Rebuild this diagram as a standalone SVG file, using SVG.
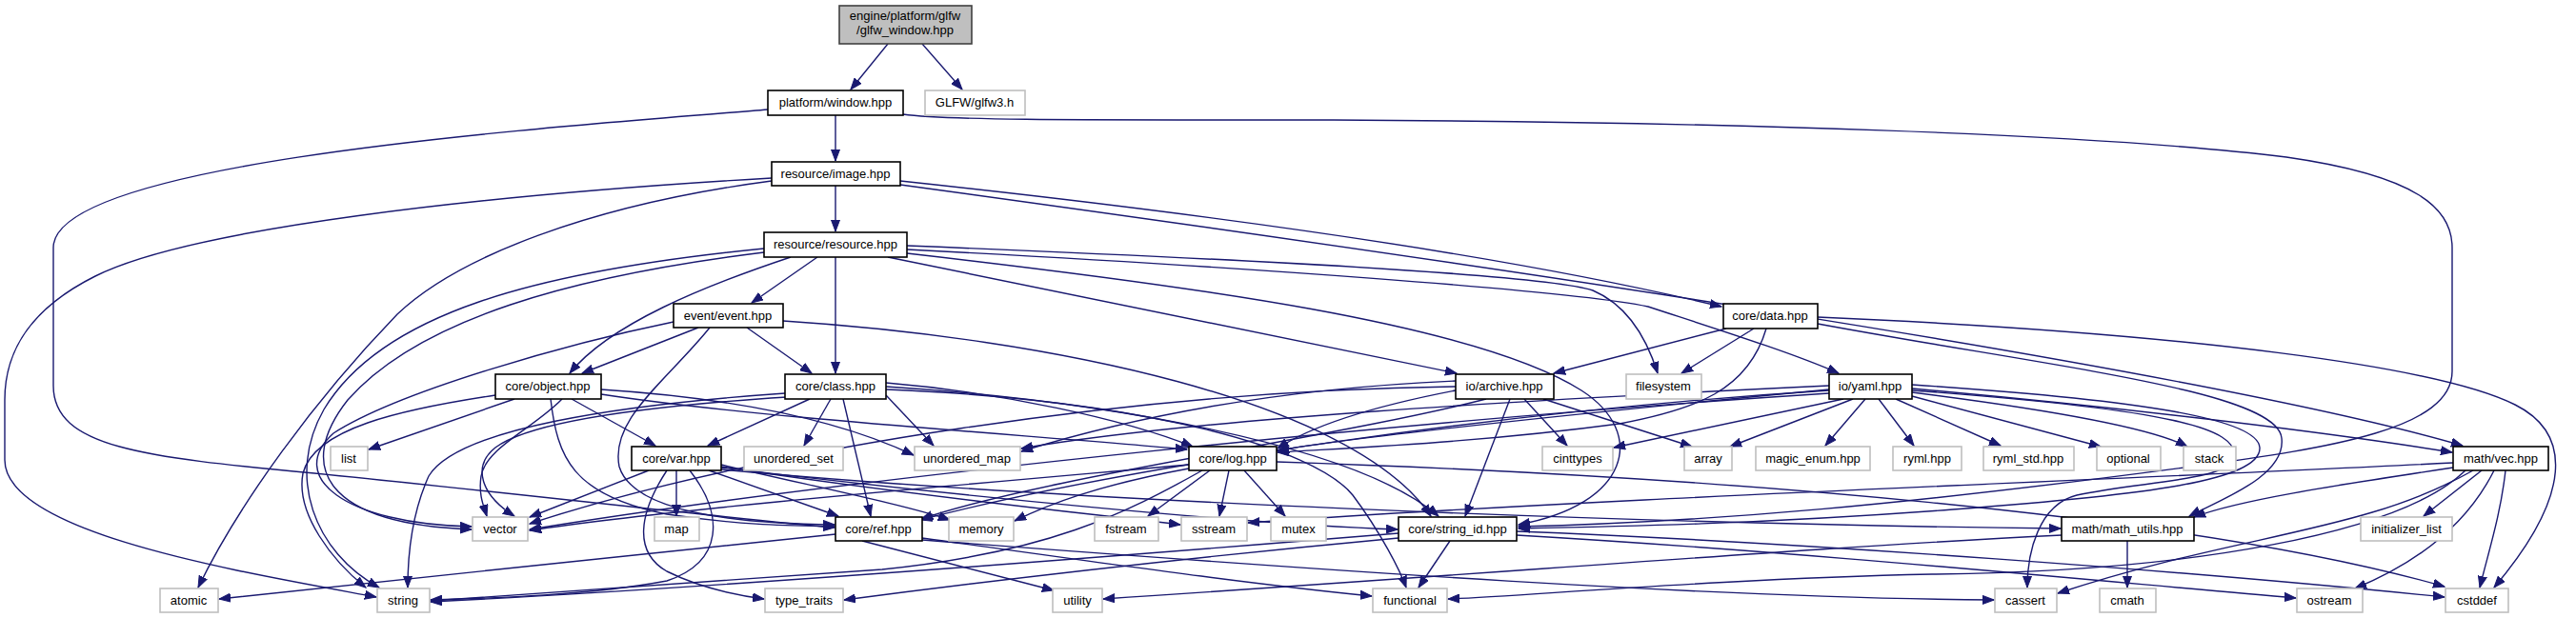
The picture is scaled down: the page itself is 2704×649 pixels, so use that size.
<svg xmlns="http://www.w3.org/2000/svg" width="2704" height="649" viewBox="0 0 2704 649">
<style>
.e{fill:none;stroke:#191970;stroke-width:1.4;marker-end:url(#arr)}
.n rect{fill:#fff;stroke:#000;stroke-width:1.6}
.x rect{fill:#fff;stroke:#bfbfbf;stroke-width:1.6}
.r rect{fill:#bfbfbf;stroke:#404040;stroke-width:1.6}
text{font-family:"Liberation Sans",Arial,sans-serif;font-size:13px;text-anchor:middle;fill:#000}
</style>
<defs>
<marker id="arr" markerWidth="13" markerHeight="10" refX="12" refY="5" orient="auto" markerUnits="userSpaceOnUse">
<path d="M0,0.5 L12,5 L0,9.5 z" fill="#191970" stroke="#191970" stroke-width="1"/>
</marker>
</defs>
<rect width="2704" height="649" fill="#fff"/>
<g id="edges">
<path class="e" d="M932,46 L893,94"/>
<path class="e" d="M968,46 L1010,94"/>
<path class="e" d="M877,121 L877,169"/>
<path class="e" d="M806,115 C560,135 56,170 56,260 L56,405 C56,470 150,480 330,497 C560,520 760,544 876,554"/>
<path class="e" d="M948,120 C990,126 1100,126 1400,126 C1800,128 2200,140 2400,165 C2540,185 2574,220 2574,260 L2574,390 C2574,450 2450,470 2300,490 C2000,530 1800,548 1594,553"/>
<path class="e" d="M877,195 L877,243"/>
<path class="e" d="M810,187 C500,205 200,240 100,290 C30,325 5,370 5,420 L5,483 C5,560 250,600 395,627"/>
<path class="e" d="M810,190 C620,215 480,270 417,330 C330,420 250,530 208,617"/>
<path class="e" d="M945,190 C1300,228 1600,272 1807,322"/>
<path class="e" d="M945,194 C1500,270 2300,385 2585,468"/>
<path class="e" d="M858,270 L789,318"/>
<path class="e" d="M877,270 L877,392"/>
<path class="e" d="M830,270 C740,300 640,340 598,392"/>
<path class="e" d="M802,261 C560,285 400,330 340,430 C300,500 330,580 398,617"/>
<path class="e" d="M802,265 C600,290 440,335 365,420 C310,490 340,550 495,556"/>
<path class="e" d="M932,270 L1529,392"/>
<path class="e" d="M952,258 C1300,272 1620,288 1672,305 C1712,322 1730,360 1740,392"/>
<path class="e" d="M952,262 C1300,280 1650,305 1730,322 C1800,345 1880,370 1930,392"/>
<path class="e" d="M952,266 C1250,300 1550,340 1660,410 C1730,455 1710,530 1594,551"/>
<path class="e" d="M733,344 L611,392"/>
<path class="e" d="M784,344 L852,392"/>
<path class="e" d="M707,338 C600,360 420,410 350,455 C300,500 360,550 495,553"/>
<path class="e" d="M745,344 C700,400 640,440 650,490 C665,540 780,550 876,551"/>
<path class="e" d="M822,337 C1100,355 1420,420 1502,542"/>
<path class="e" d="M1812,345 L1631,392"/>
<path class="e" d="M1841,345 L1765,392"/>
<path class="e" d="M1854,345 C1835,410 1780,430 1700,445 C1550,465 1420,470 1341,475"/>
<path class="e" d="M1908,333 C2300,350 2560,385 2640,425 C2700,455 2700,520 2618,617"/>
<path class="e" d="M1908,340 C2150,385 2390,410 2395,460 C2400,500 2330,525 2298,542"/>
<path class="e" d="M540,419 L387,472"/>
<path class="e" d="M600,419 L688,468"/>
<path class="e" d="M578,419 C585,480 600,520 700,540 C780,552 830,552 876,553"/>
<path class="e" d="M590,419 C560,450 510,470 505,500 C502,520 508,532 511,542"/>
<path class="e" d="M520,415 C420,430 330,450 318,497 C310,540 350,590 384,617"/>
<path class="e" d="M631,409 C800,420 900,450 959,478"/>
<path class="e" d="M631,414 C800,440 1100,458 1246,472"/>
<path class="e" d="M850,419 L743,468"/>
<path class="e" d="M872,419 L844,468"/>
<path class="e" d="M885,419 L914,542"/>
<path class="e" d="M826,417 C700,425 560,440 520,470 C495,490 505,520 540,542"/>
<path class="e" d="M824,413 C650,425 480,450 450,500 C432,540 428,580 428,617"/>
<path class="e" d="M930,415 L980,468"/>
<path class="e" d="M930,402 C1050,412 1180,440 1252,469"/>
<path class="e" d="M930,406 C1150,420 1420,465 1510,542"/>
<path class="e" d="M930,409 C1200,420 1380,470 1420,520 C1450,560 1470,600 1476,617"/>
<path class="e" d="M1528,400 C1300,410 1150,450 1072,474"/>
<path class="e" d="M1528,410 C1450,425 1380,445 1341,471"/>
<path class="e" d="M1528,406 C1200,410 800,470 556,550"/>
<path class="e" d="M1560,419 C1400,460 1100,500 967,545"/>
<path class="e" d="M1600,419 L1645,468"/>
<path class="e" d="M1620,419 L1776,469"/>
<path class="e" d="M1585,419 L1538,542"/>
<path class="e" d="M1920,405 C1600,420 1250,440 1072,471"/>
<path class="e" d="M1920,409 C1700,430 1450,455 1341,473"/>
<path class="e" d="M1935,419 L1694,470"/>
<path class="e" d="M1945,419 L1816,469"/>
<path class="e" d="M1958,419 L1916,468"/>
<path class="e" d="M1972,419 L2009,468"/>
<path class="e" d="M1990,419 L2100,468"/>
<path class="e" d="M2007,416 L2205,469"/>
<path class="e" d="M2007,412 C2150,430 2260,450 2296,469"/>
<path class="e" d="M2007,408 C2250,430 2450,455 2574,475"/>
<path class="e" d="M2007,404 C2250,420 2370,440 2372,470 C2374,505 2250,520 2050,535 C1850,550 1700,553 1594,555"/>
<path class="e" d="M2007,410 C2280,430 2350,450 2345,480 C2340,505 2250,505 2180,520 C2140,530 2128,580 2128,617"/>
<path class="e" d="M1920,413 C1500,440 900,500 556,556"/>
<path class="e" d="M1920,410 C1600,430 1200,485 966,546"/>
<path class="e" d="M681,494 L556,543"/>
<path class="e" d="M710,494 L710,542"/>
<path class="e" d="M700,494 C670,540 665,580 700,600 C740,620 780,626 802,629"/>
<path class="e" d="M724,494 C760,540 760,590 700,610 C620,625 520,628 452,630"/>
<path class="e" d="M744,494 L880,542"/>
<path class="e" d="M757,488 C850,510 950,530 997,546"/>
<path class="e" d="M757,490 C950,520 1150,540 1239,551"/>
<path class="e" d="M757,491 C1000,520 1300,550 1467,556"/>
<path class="e" d="M757,493 C1100,525 1700,550 2163,555"/>
<path class="e" d="M1270,494 L1205,542"/>
<path class="e" d="M1290,494 L1280,542"/>
<path class="e" d="M1306,494 L1349,542"/>
<path class="e" d="M1248,492 C1150,510 1100,530 1065,547"/>
<path class="e" d="M1248,488 C1000,510 700,535 556,557"/>
<path class="e" d="M1262,494 C1180,540 1100,580 926,598 C700,615 550,625 452,631"/>
<path class="e" d="M1340,485 C1800,500 2300,540 2566,616"/>
<path class="e" d="M1468,560 C1100,590 700,620 452,632"/>
<path class="e" d="M1468,565 C1200,590 1000,615 886,630"/>
<path class="e" d="M1522,568 L1489,617"/>
<path class="e" d="M1592,562 C1900,580 2200,610 2410,628"/>
<path class="e" d="M1592,558 C1900,570 2300,600 2566,627"/>
<path class="e" d="M2605,494 L2544,542"/>
<path class="e" d="M2630,494 C2625,540 2612,580 2603,617"/>
<path class="e" d="M2618,494 C2590,550 2540,590 2472,618"/>
<path class="e" d="M2596,494 C2480,560 2350,560 2160,623"/>
<path class="e" d="M2575,491 C2450,510 2350,525 2303,543"/>
<path class="e" d="M2588,494 C2520,560 2300,600 2028,603 C1800,608 1600,626 1520,629"/>
<path class="e" d="M2575,486 C2200,505 1700,522 1310,549"/>
<path class="e" d="M2233,568 L2233,617"/>
<path class="e" d="M2164,562 C1900,575 1600,600 1158,629"/>
<path class="e" d="M877,561 C700,580 400,610 230,629"/>
<path class="e" d="M905,568 L1106,620"/>
<path class="e" d="M968,565 C1150,590 1300,612 1440,626"/>
<path class="e" d="M968,567 C1400,600 1800,628 2093,630"/>
</g>
<g id="node-root" class="r"><rect x="881" y="6" width="139" height="40"/><text x="950" y="21">engine/platform/glfw</text><text x="950" y="36">/glfw_window.hpp</text></g>
<g id="node-window" class="n"><rect x="806" y="95" width="142" height="26"/><text x="877" y="112">platform/window.hpp</text></g>
<g id="node-glfw3" class="x"><rect x="971" y="95" width="105" height="26"/><text x="1023" y="112">GLFW/glfw3.h</text></g>
<g id="node-image" class="n"><rect x="810" y="170" width="135" height="25"/><text x="877" y="187">resource/image.hpp</text></g>
<g id="node-resource" class="n"><rect x="802" y="244" width="150" height="26"/><text x="877" y="261">resource/resource.hpp</text></g>
<g id="node-event" class="n"><rect x="707" y="319" width="115" height="25"/><text x="764" y="336">event/event.hpp</text></g>
<g id="node-data" class="n"><rect x="1809" y="319" width="99" height="26"/><text x="1858" y="336">core/data.hpp</text></g>
<g id="node-object" class="n"><rect x="520" y="393" width="111" height="26"/><text x="575" y="410">core/object.hpp</text></g>
<g id="node-class" class="n"><rect x="824" y="393" width="106" height="26"/><text x="877" y="410">core/class.hpp</text></g>
<g id="node-archive" class="n"><rect x="1528" y="393" width="103" height="26"/><text x="1579" y="410">io/archive.hpp</text></g>
<g id="node-filesystem" class="x"><rect x="1707" y="393" width="79" height="26"/><text x="1746" y="410">filesystem</text></g>
<g id="node-yaml" class="n"><rect x="1920" y="393" width="87" height="26"/><text x="1963" y="410">io/yaml.hpp</text></g>
<g id="node-list" class="x"><rect x="347" y="469" width="39" height="25"/><text x="366" y="486">list</text></g>
<g id="node-var" class="n"><rect x="663" y="469" width="94" height="25"/><text x="710" y="486">core/var.hpp</text></g>
<g id="node-unordered_set" class="x"><rect x="781" y="469" width="104" height="25"/><text x="833" y="486">unordered_set</text></g>
<g id="node-unordered_map" class="x"><rect x="960" y="469" width="111" height="25"/><text x="1015" y="486">unordered_map</text></g>
<g id="node-log" class="n"><rect x="1248" y="469" width="92" height="25"/><text x="1294" y="486">core/log.hpp</text></g>
<g id="node-cinttypes" class="x"><rect x="1619" y="469" width="74" height="25"/><text x="1656" y="486">cinttypes</text></g>
<g id="node-array" class="x"><rect x="1768" y="469" width="50" height="25"/><text x="1793" y="486">array</text></g>
<g id="node-magic_enum" class="x"><rect x="1843" y="469" width="120" height="25"/><text x="1903" y="486">magic_enum.hpp</text></g>
<g id="node-ryml" class="x"><rect x="1987" y="469" width="72" height="25"/><text x="2023" y="486">ryml.hpp</text></g>
<g id="node-ryml_std" class="x"><rect x="2082" y="469" width="95" height="25"/><text x="2129" y="486">ryml_std.hpp</text></g>
<g id="node-optional" class="x"><rect x="2201" y="469" width="67" height="25"/><text x="2234" y="486">optional</text></g>
<g id="node-stack" class="x"><rect x="2292" y="469" width="55" height="25"/><text x="2319" y="486">stack</text></g>
<g id="node-vec" class="n"><rect x="2575" y="469" width="100" height="25"/><text x="2625" y="486">math/vec.hpp</text></g>
<g id="node-vector" class="x"><rect x="496" y="543" width="58" height="25"/><text x="525" y="560">vector</text></g>
<g id="node-map" class="x"><rect x="687" y="543" width="47" height="25"/><text x="710" y="560">map</text></g>
<g id="node-ref" class="n"><rect x="877" y="543" width="91" height="25"/><text x="922" y="560">core/ref.hpp</text></g>
<g id="node-memory" class="x"><rect x="996" y="543" width="68" height="25"/><text x="1030" y="560">memory</text></g>
<g id="node-fstream" class="x"><rect x="1149" y="543" width="67" height="25"/><text x="1182" y="560">fstream</text></g>
<g id="node-sstream" class="x"><rect x="1240" y="543" width="69" height="25"/><text x="1274" y="560">sstream</text></g>
<g id="node-mutex" class="x"><rect x="1334" y="543" width="58" height="25"/><text x="1363" y="560">mutex</text></g>
<g id="node-string_id" class="n"><rect x="1468" y="543" width="124" height="25"/><text x="1530" y="560">core/string_id.hpp</text></g>
<g id="node-math_utils" class="n"><rect x="2164" y="543" width="139" height="25"/><text x="2233" y="560">math/math_utils.hpp</text></g>
<g id="node-initializer_list" class="x"><rect x="2478" y="543" width="96" height="25"/><text x="2526" y="560">initializer_list</text></g>
<g id="node-atomic" class="x"><rect x="168" y="618" width="61" height="25"/><text x="198" y="635">atomic</text></g>
<g id="node-string" class="x"><rect x="396" y="618" width="55" height="25"/><text x="423" y="635">string</text></g>
<g id="node-type_traits" class="x"><rect x="803" y="618" width="82" height="25"/><text x="844" y="635">type_traits</text></g>
<g id="node-utility" class="x"><rect x="1105" y="618" width="52" height="25"/><text x="1131" y="635">utility</text></g>
<g id="node-functional" class="x"><rect x="1441" y="618" width="78" height="25"/><text x="1480" y="635">functional</text></g>
<g id="node-cassert" class="x"><rect x="2094" y="618" width="65" height="25"/><text x="2126" y="635">cassert</text></g>
<g id="node-cmath" class="x"><rect x="2204" y="618" width="59" height="25"/><text x="2233" y="635">cmath</text></g>
<g id="node-ostream" class="x"><rect x="2411" y="618" width="69" height="25"/><text x="2445" y="635">ostream</text></g>
<g id="node-cstddef" class="x"><rect x="2567" y="618" width="66" height="25"/><text x="2600" y="635">cstddef</text></g>
</svg>
